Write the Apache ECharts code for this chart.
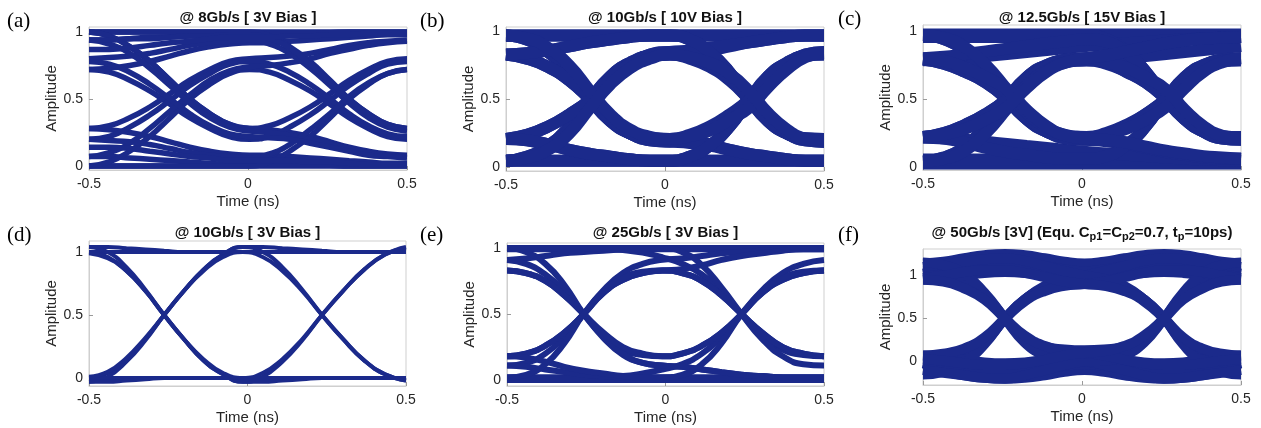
<!DOCTYPE html>
<html>
<head>
    <meta charset="utf-8">
    <title>Eye diagrams</title>
    <script src="https://cdn.jsdelivr.net/npm/echarts@6/dist/echarts.min.js"></script>
    <style>html, body { margin: 0; padding: 0; background: #fff; }</style>
</head>
<body>
<div id="main" style="width: 1261px;height:428px;"></div>
<script type="text/javascript">
    // sample times (ns) of every trace, one list per panel
    var timeA = [-0.5, -0.436, -0.372, -0.309, -0.245, -0.183, -0.12, -0.058, 0.005, 0.068, 0.131, 0.195, 0.258, 0.318, 0.379, 0.439, 0.5];
    var timeB = [-0.5, -0.434, -0.368, -0.301, -0.235, -0.172, -0.11, -0.047, 0.015, 0.078, 0.14, 0.203, 0.265, 0.324, 0.383, 0.441, 0.5];
    var timeC = [-0.5, -0.434, -0.368, -0.302, -0.236, -0.174, -0.111, -0.049, 0.014, 0.076, 0.139, 0.201, 0.264, 0.323, 0.382, 0.441, 0.5];
    var timeD = [-0.5, -0.441, -0.382, -0.322, -0.263, -0.201, -0.139, -0.077, -0.015, 0.048, 0.11, 0.173, 0.235, 0.301, 0.368, 0.434, 0.5];
    var timeE = [-0.5, -0.44, -0.379, -0.319, -0.258, -0.196, -0.134, -0.072, -0.01, 0.052, 0.115, 0.177, 0.24, 0.305, 0.37, 0.435, 0.5];
    var timeF = [-0.5, -0.436, -0.371, -0.307, -0.242, -0.18, -0.117, -0.055, 0.008, 0.07, 0.133, 0.195, 0.258, 0.318, 0.379, 0.439, 0.5];

    // amplitude of each trace at those times
    var eyeA = [
        [1, 1, 1, 1, 1, 1, 1, 1, 1, 1, 1, 1, 1, 1, 1, 1, 1],
        [0.72, 0.73, 0.75, 0.78, 0.82, 0.86, 0.89, 0.91, 0.92, 0.92, 0.93, 0.94, 0.95, 0.96, 0.97, 0.98, 0.98],
        [0.94, 0.94, 0.95, 0.96, 0.965, 0.97, 0.98, 0.99, 0.99, 0.99, 0.99, 0.99, 0.995, 1, 1, 1, 1],
        [1, 1, 1, 1, 1, 1, 1, 1, 1, 0.97, 0.89, 0.78, 0.64, 0.5, 0.39, 0.31, 0.28],
        [1, 0.97, 0.89, 0.78, 0.64, 0.5, 0.39, 0.31, 0.28, 0.3, 0.36, 0.44, 0.54, 0.64, 0.72, 0.78, 0.8],
        [1, 0.97, 0.89, 0.78, 0.64, 0.5, 0.39, 0.31, 0.28, 0.27, 0.25, 0.22, 0.18, 0.14, 0.11, 0.09, 0.08],
        [0.72, 0.7, 0.64, 0.56, 0.46, 0.36, 0.28, 0.22, 0.2, 0.22, 0.29, 0.38, 0.49, 0.6, 0.69, 0.76, 0.78],
        [0.8, 0.81, 0.82, 0.84, 0.87, 0.9, 0.92, 0.93, 0.94, 0.91, 0.84, 0.73, 0.6, 0.47, 0.36, 0.29, 0.26],
        [0, 0, 0, 0, 0, 0, 0, 0, 0, 0, 0, 0, 0, 0, 0, 0, 0],
        [0.28, 0.27, 0.25, 0.22, 0.18, 0.14, 0.11, 0.09, 0.08, 0.08, 0.07, 0.06, 0.05, 0.04, 0.03, 0.02, 0.02],
        [0.07, 0.07, 0.06, 0.05, 0.04, 0.03, 0.02, 0.01, 0.01, 0.01, 0.01, 0.01, 0.005, 0, 0, 0, 0],
        [0, 0, 0, 0, 0, 0, 0, 0, 0, 0.03, 0.11, 0.22, 0.36, 0.5, 0.61, 0.69, 0.72],
        [0, 0.03, 0.11, 0.22, 0.36, 0.5, 0.61, 0.69, 0.72, 0.7, 0.64, 0.56, 0.46, 0.36, 0.28, 0.22, 0.2],
        [0.28, 0.3, 0.36, 0.44, 0.54, 0.64, 0.72, 0.78, 0.8, 0.81, 0.82, 0.84, 0.87, 0.9, 0.92, 0.93, 0.94],
        [0.2, 0.22, 0.29, 0.38, 0.49, 0.6, 0.69, 0.76, 0.78, 0.76, 0.7, 0.61, 0.5, 0.39, 0.3, 0.24, 0.22],
        [0.07, 0.1, 0.17, 0.28, 0.41, 0.53, 0.64, 0.71, 0.74, 0.75, 0.77, 0.8, 0.84, 0.87, 0.9, 0.92, 0.93],
        [0.94, 0.91, 0.84, 0.73, 0.6, 0.47, 0.36, 0.29, 0.26, 0.25, 0.23, 0.2, 0.17, 0.13, 0.1, 0.08, 0.07],
        [0.2, 0.19, 0.18, 0.16, 0.13, 0.1, 0.08, 0.07, 0.06, 0.09, 0.16, 0.27, 0.39, 0.52, 0.62, 0.69, 0.72],
        [0.78, 0.76, 0.7, 0.61, 0.5, 0.39, 0.3, 0.24, 0.22, 0.21, 0.2, 0.17, 0.14, 0.11, 0.08, 0.07, 0.06],
        [0.94, 0.94, 0.95, 0.95, 0.96, 0.97, 0.97, 0.98, 0.98, 0.95, 0.88, 0.76, 0.63, 0.5, 0.39, 0.31, 0.28],
        [0.87, 0.87, 0.88, 0.9, 0.92, 0.93, 0.95, 0.96, 0.96, 0.96, 0.97, 0.97, 0.98, 0.98, 0.99, 0.99, 0.99],
        [0.14, 0.14, 0.13, 0.11, 0.09, 0.07, 0.06, 0.04, 0.04, 0.04, 0.04, 0.03, 0.03, 0.02, 0.01, 0.01, 0.01]
    ];
    var eyeB = [
        [0.97, 0.97, 0.97, 0.97, 0.97, 0.97, 0.97, 0.97, 0.97, 0.97, 0.97, 0.97, 0.97, 0.97, 0.97, 0.97, 0.97],
        [0.83, 0.84, 0.86, 0.89, 0.92, 0.94, 0.96, 0.97, 0.97, 0.97, 0.97, 0.97, 0.97, 0.97, 0.97, 0.97, 0.97],
        [0.97, 0.97, 0.97, 0.97, 0.97, 0.97, 0.97, 0.97, 0.97, 0.94, 0.85, 0.7, 0.5, 0.34, 0.25, 0.215, 0.21],
        [0.97, 0.94, 0.85, 0.7, 0.5, 0.34, 0.25, 0.215, 0.21, 0.24, 0.3, 0.39, 0.5, 0.65, 0.76, 0.83, 0.85],
        [0.97, 0.94, 0.85, 0.7, 0.5, 0.34, 0.25, 0.215, 0.21, 0.2, 0.17, 0.13, 0.1, 0.08, 0.06, 0.05, 0.05],
        [0.05, 0.08, 0.16, 0.3, 0.5, 0.67, 0.77, 0.82, 0.83, 0.8, 0.74, 0.64, 0.5, 0.35, 0.25, 0.2, 0.19],
        [0.05, 0.08, 0.16, 0.3, 0.5, 0.67, 0.77, 0.82, 0.83, 0.84, 0.86, 0.89, 0.92, 0.94, 0.96, 0.97, 0.97],
        [0.05, 0.05, 0.05, 0.05, 0.05, 0.05, 0.05, 0.05, 0.05, 0.08, 0.16, 0.3, 0.5, 0.67, 0.77, 0.82, 0.83],
        [0.05, 0.05, 0.05, 0.05, 0.05, 0.05, 0.05, 0.05, 0.05, 0.05, 0.05, 0.05, 0.05, 0.05, 0.05, 0.05, 0.05],
        [0.21, 0.2, 0.17, 0.13, 0.1, 0.08, 0.06, 0.05, 0.05, 0.05, 0.05, 0.05, 0.05, 0.05, 0.05, 0.05, 0.05],
        [0.83, 0.8, 0.74, 0.64, 0.5, 0.35, 0.25, 0.2, 0.19, 0.22, 0.28, 0.38, 0.5, 0.65, 0.76, 0.83, 0.85],
        [0.21, 0.24, 0.3, 0.39, 0.5, 0.65, 0.76, 0.83, 0.85, 0.82, 0.76, 0.65, 0.5, 0.35, 0.25, 0.2, 0.19],
        [0.83, 0.8, 0.74, 0.64, 0.5, 0.35, 0.25, 0.2, 0.19, 0.18, 0.16, 0.13, 0.1, 0.08, 0.06, 0.05, 0.05],
        [0.21, 0.24, 0.3, 0.39, 0.5, 0.65, 0.76, 0.83, 0.85, 0.86, 0.88, 0.9, 0.92, 0.94, 0.96, 0.97, 0.97],
        [0.83, 0.84, 0.86, 0.89, 0.92, 0.94, 0.96, 0.97, 0.97, 0.94, 0.85, 0.7, 0.5, 0.34, 0.25, 0.215, 0.21],
        [0.21, 0.2, 0.17, 0.13, 0.1, 0.08, 0.06, 0.05, 0.05, 0.08, 0.16, 0.3, 0.5, 0.67, 0.77, 0.82, 0.83],
        [0.97, 0.95, 0.88, 0.75, 0.56, 0.39, 0.28, 0.225, 0.21, 0.23, 0.27, 0.35, 0.44, 0.59, 0.72, 0.81, 0.84],
        [0.05, 0.07, 0.13, 0.25, 0.44, 0.61, 0.73, 0.8, 0.83, 0.81, 0.77, 0.69, 0.56, 0.4, 0.28, 0.21, 0.19]
    ];
    var eyeC = [
        [0.975, 0.975, 0.975, 0.975, 0.975, 0.975, 0.975, 0.975, 0.975, 0.975, 0.975, 0.975, 0.975, 0.975, 0.975, 0.975, 0.975],
        [0.955, 0.955, 0.955, 0.955, 0.955, 0.955, 0.955, 0.955, 0.955, 0.955, 0.955, 0.955, 0.955, 0.955, 0.955, 0.955, 0.955],
        [0.785, 0.79, 0.8, 0.815, 0.83, 0.845, 0.86, 0.875, 0.89, 0.9, 0.91, 0.92, 0.93, 0.94, 0.945, 0.95, 0.955],
        [0.97, 0.97, 0.97, 0.97, 0.97, 0.97, 0.97, 0.97, 0.97, 0.94, 0.85, 0.7, 0.5, 0.35, 0.26, 0.225, 0.22],
        [0.97, 0.94, 0.85, 0.7, 0.5, 0.35, 0.26, 0.225, 0.22, 0.25, 0.31, 0.39, 0.5, 0.64, 0.74, 0.79, 0.8],
        [0.97, 0.94, 0.85, 0.7, 0.5, 0.35, 0.26, 0.225, 0.22, 0.21, 0.18, 0.14, 0.11, 0.09, 0.07, 0.06, 0.06],
        [0.04, 0.07, 0.15, 0.3, 0.5, 0.66, 0.75, 0.78, 0.785, 0.76, 0.7, 0.62, 0.5, 0.36, 0.26, 0.21, 0.2],
        [0.04, 0.07, 0.15, 0.3, 0.5, 0.66, 0.75, 0.78, 0.785, 0.79, 0.8, 0.815, 0.83, 0.845, 0.86, 0.875, 0.89],
        [0.04, 0.04, 0.04, 0.04, 0.04, 0.04, 0.04, 0.04, 0.04, 0.07, 0.15, 0.3, 0.5, 0.66, 0.75, 0.78, 0.785],
        [0.025, 0.025, 0.025, 0.025, 0.025, 0.025, 0.025, 0.025, 0.025, 0.025, 0.025, 0.025, 0.025, 0.025, 0.025, 0.025, 0.025],
        [0.055, 0.055, 0.055, 0.055, 0.055, 0.055, 0.055, 0.055, 0.055, 0.055, 0.055, 0.055, 0.055, 0.055, 0.055, 0.055, 0.055],
        [0.215, 0.21, 0.2, 0.185, 0.17, 0.155, 0.14, 0.125, 0.11, 0.1, 0.09, 0.08, 0.07, 0.06, 0.055, 0.05, 0.045],
        [0.79, 0.76, 0.7, 0.62, 0.5, 0.36, 0.26, 0.21, 0.2, 0.23, 0.3, 0.39, 0.5, 0.64, 0.74, 0.79, 0.8],
        [0.22, 0.25, 0.31, 0.39, 0.5, 0.64, 0.74, 0.79, 0.8, 0.77, 0.7, 0.62, 0.5, 0.36, 0.26, 0.21, 0.2],
        [0.79, 0.76, 0.7, 0.62, 0.5, 0.36, 0.26, 0.21, 0.2, 0.19, 0.17, 0.14, 0.11, 0.09, 0.07, 0.06, 0.06],
        [0.22, 0.25, 0.31, 0.39, 0.5, 0.64, 0.74, 0.79, 0.8, 0.82, 0.85, 0.88, 0.91, 0.93, 0.945, 0.95, 0.955],
        [0.8, 0.81, 0.83, 0.85, 0.87, 0.89, 0.91, 0.925, 0.94, 0.92, 0.84, 0.7, 0.5, 0.35, 0.26, 0.225, 0.22],
        [0.22, 0.21, 0.18, 0.14, 0.11, 0.09, 0.07, 0.06, 0.06, 0.08, 0.16, 0.3, 0.5, 0.66, 0.75, 0.78, 0.785],
        [0.97, 0.95, 0.88, 0.75, 0.57, 0.4, 0.29, 0.235, 0.22, 0.24, 0.28, 0.35, 0.44, 0.58, 0.7, 0.77, 0.8],
        [0.04, 0.06, 0.12, 0.25, 0.43, 0.6, 0.71, 0.77, 0.785, 0.77, 0.73, 0.66, 0.57, 0.42, 0.3, 0.23, 0.21],
        [0.8, 0.78, 0.73, 0.66, 0.57, 0.42, 0.3, 0.23, 0.21, 0.2, 0.18, 0.15, 0.12, 0.1, 0.08, 0.07, 0.06],
        [0.22, 0.24, 0.28, 0.35, 0.44, 0.58, 0.7, 0.77, 0.8, 0.82, 0.85, 0.88, 0.91, 0.93, 0.945, 0.95, 0.955]
    ];
    var eyeD = [
        [1, 1, 1, 1, 1, 1, 1, 1, 1, 1, 1, 1, 1, 1, 1, 1, 1],
        [1.04, 1.04, 1.03, 1.02, 1.01, 1, 1, 1, 1, 1, 1, 1, 1, 1, 1, 1, 1],
        [1, 1, 1, 1, 1, 1, 1, 1, 1, 0.96, 0.85, 0.69, 0.5, 0.31, 0.14, 0.03, -0.02],
        [1, 0.96, 0.85, 0.69, 0.5, 0.31, 0.14, 0.03, -0.03, 0.01, 0.13, 0.3, 0.5, 0.69, 0.86, 0.98, 1.04],
        [1.04, 1, 0.88, 0.7, 0.5, 0.31, 0.14, 0.03, -0.03, -0.03, -0.02, -0.01, 0, 0, 0, 0, 0],
        [0, 0.04, 0.15, 0.31, 0.5, 0.69, 0.86, 0.98, 1.04, 1.04, 1.03, 1.02, 1.01, 1, 1, 1, 1],
        [-0.03, 0.01, 0.13, 0.3, 0.5, 0.69, 0.86, 0.98, 1.04, 1, 0.88, 0.7, 0.5, 0.31, 0.14, 0.03, -0.02],
        [0, 0, 0, 0, 0, 0, 0, 0, 0, 0.04, 0.15, 0.31, 0.5, 0.69, 0.86, 0.98, 1.03],
        [0, 0, 0, 0, 0, 0, 0, 0, 0, 0, 0, 0, 0, 0, 0, 0, 0],
        [-0.03, -0.03, -0.02, -0.01, 0, 0, 0, 0, 0, 0, 0, 0, 0, 0, 0, 0, 0],
        [0.01, 0.05, 0.16, 0.32, 0.5, 0.69, 0.85, 0.96, 1, 1, 1, 1, 1, 1, 1, 1, 1],
        [0.99, 0.95, 0.85, 0.69, 0.5, 0.31, 0.15, 0.04, 0, 0, 0, 0, 0, 0, 0, 0, 0]
    ];
    var eyeE = [
        [1, 1, 1, 1, 1, 1, 1, 1, 1, 1, 1, 1, 1, 1, 1, 1, 1],
        [0.99, 0.99, 0.99, 0.99, 0.99, 0.99, 0.99, 0.99, 0.99, 0.99, 0.99, 0.99, 0.99, 0.99, 0.99, 0.99, 0.99],
        [0.91, 0.92, 0.94, 0.96, 0.97, 0.98, 0.99, 1, 1, 1, 1, 1, 1, 1, 1, 1, 1],
        [1, 1, 1, 1, 1, 0.995, 0.985, 0.965, 0.93, 0.88, 0.8, 0.67, 0.5, 0.33, 0.23, 0.19, 0.18],
        [1, 0.97, 0.88, 0.72, 0.5, 0.33, 0.23, 0.19, 0.18, 0.2, 0.26, 0.36, 0.5, 0.66, 0.76, 0.81, 0.83],
        [0.91, 0.88, 0.8, 0.67, 0.5, 0.32, 0.19, 0.13, 0.11, 0.1, 0.08, 0.06, 0.04, 0.03, 0.02, 0.02, 0.02],
        [0.18, 0.2, 0.26, 0.36, 0.5, 0.66, 0.76, 0.81, 0.83, 0.81, 0.75, 0.64, 0.5, 0.36, 0.25, 0.2, 0.18],
        [0.11, 0.13, 0.2, 0.33, 0.5, 0.68, 0.81, 0.88, 0.91, 0.92, 0.94, 0.96, 0.97, 0.98, 0.99, 1, 1],
        [0.02, 0.02, 0.02, 0.02, 0.02, 0.025, 0.03, 0.05, 0.08, 0.12, 0.2, 0.33, 0.5, 0.68, 0.81, 0.88, 0.91],
        [0.02, 0.02, 0.02, 0.02, 0.02, 0.02, 0.02, 0.02, 0.02, 0.02, 0.02, 0.02, 0.02, 0.02, 0.02, 0.02, 0.02],
        [0, 0, 0, 0, 0, 0, 0, 0, 0, 0, 0, 0, 0, 0, 0, 0, 0],
        [0.11, 0.1, 0.08, 0.06, 0.04, 0.03, 0.02, 0.02, 0.02, 0.02, 0.02, 0.02, 0.02, 0.02, 0.02, 0.02, 0.02],
        [0.83, 0.81, 0.75, 0.64, 0.5, 0.33, 0.2, 0.13, 0.11, 0.1, 0.08, 0.06, 0.04, 0.03, 0.02, 0.02, 0.02],
        [0.18, 0.2, 0.26, 0.36, 0.5, 0.66, 0.76, 0.81, 0.83, 0.84, 0.87, 0.91, 0.94, 0.96, 0.98, 0.99, 0.99],
        [1, 1, 1, 1, 1, 1, 1, 1, 1, 0.97, 0.87, 0.7, 0.5, 0.31, 0.18, 0.12, 0.11],
        [0.83, 0.81, 0.75, 0.64, 0.5, 0.36, 0.25, 0.2, 0.18, 0.2, 0.26, 0.36, 0.5, 0.66, 0.76, 0.81, 0.83],
        [0.02, 0.04, 0.12, 0.28, 0.5, 0.67, 0.77, 0.82, 0.83, 0.81, 0.75, 0.64, 0.5, 0.36, 0.25, 0.2, 0.18],
        [0.18, 0.17, 0.14, 0.1, 0.07, 0.05, 0.03, 0.02, 0.02, 0.04, 0.12, 0.28, 0.5, 0.67, 0.77, 0.82, 0.83]
    ];
    var eyeF = [
        [1.14, 1.16, 1.2, 1.235, 1.25, 1.235, 1.2, 1.16, 1.14, 1.16, 1.2, 1.235, 1.25, 1.235, 1.2, 1.16, 1.14],
        [1.05, 1.07, 1.11, 1.14, 1.15, 1.14, 1.11, 1.07, 1.05, 1.07, 1.11, 1.14, 1.15, 1.14, 1.11, 1.07, 1.05],
        [0.95, 0.97, 1, 1.03, 1.04, 1.03, 1, 0.97, 0.95, 0.97, 1, 1.03, 1.04, 1.03, 1, 0.97, 0.95],
        [-0.05, -0.03, 0.05, 0.22, 0.5, 0.72, 0.85, 0.91, 0.93, 0.98, 1.04, 1.09, 1.13, 1.13, 1.1, 1.06, 1.02],
        [1.02, 1.06, 1.1, 1.13, 1.13, 1.09, 1.04, 0.98, 0.93, 0.91, 0.85, 0.72, 0.5, 0.22, 0.05, -0.03, -0.05],
        [-0.05, -0.03, 0.05, 0.22, 0.5, 0.72, 0.85, 0.9, 0.91, 0.9, 0.85, 0.72, 0.5, 0.25, 0.07, -0.01, -0.02],
        [1.05, 1.03, 0.95, 0.78, 0.5, 0.28, 0.17, 0.14, 0.13, 0.14, 0.17, 0.28, 0.5, 0.78, 0.95, 1.03, 1.05],
        [1.02, 1, 0.93, 0.77, 0.5, 0.25, 0.13, 0.1, 0.09, 0.05, -0.02, -0.08, -0.11, -0.12, -0.11, -0.07, -0.02],
        [-0.02, -0.07, -0.11, -0.12, -0.11, -0.08, -0.02, 0.05, 0.09, 0.1, 0.13, 0.25, 0.5, 0.77, 0.93, 1, 1.02],
        [-0.1, -0.12, -0.16, -0.19, -0.2, -0.19, -0.16, -0.12, -0.1, -0.12, -0.16, -0.19, -0.2, -0.19, -0.16, -0.12, -0.1],
        [-0.03, -0.05, -0.08, -0.11, -0.12, -0.11, -0.08, -0.05, -0.03, -0.05, -0.08, -0.11, -0.12, -0.11, -0.08, -0.05, -0.03],
        [0.07, 0.05, 0.02, -0.01, -0.02, -0.01, 0.02, 0.05, 0.07, 0.05, 0.02, -0.01, -0.02, -0.01, 0.02, 0.05, 0.07],
        [-0.15, -0.12, -0.02, 0.2, 0.5, 0.72, 0.88, 0.96, 1, 1.05, 1.11, 1.17, 1.2, 1.19, 1.16, 1.13, 1.1],
        [1.1, 1.13, 1.16, 1.19, 1.2, 1.17, 1.11, 1.05, 1, 0.96, 0.88, 0.72, 0.5, 0.2, -0.02, -0.12, -0.15],
        [1.15, 1.12, 1.02, 0.8, 0.5, 0.22, 0.07, 0.01, 0, -0.04, -0.1, -0.16, -0.2, -0.19, -0.16, -0.13, -0.1],
        [-0.1, -0.13, -0.16, -0.19, -0.2, -0.16, -0.1, -0.04, 0, 0.01, 0.07, 0.22, 0.5, 0.8, 1.02, 1.12, 1.15],
        [0.07, 0.09, 0.15, 0.28, 0.5, 0.7, 0.82, 0.88, 0.9, 0.93, 0.98, 1.03, 1.06, 1.06, 1.04, 1, 0.97],
        [0.97, 1, 1.04, 1.06, 1.06, 1.03, 0.98, 0.93, 0.9, 0.88, 0.82, 0.7, 0.5, 0.28, 0.15, 0.09, 0.07],
        [0.95, 0.93, 0.85, 0.72, 0.5, 0.3, 0.18, 0.12, 0.1, 0.07, 0.02, -0.02, -0.04, -0.04, -0.02, 0.01, 0.03],
        [0.03, 0.01, -0.02, -0.04, -0.04, -0.02, 0.02, 0.07, 0.1, 0.12, 0.18, 0.3, 0.5, 0.72, 0.85, 0.93, 0.95]
    ];

    var tickX = [-0.5, 0, 0.5];
    var tickY = [0, 0.5, 1];
    var titles = [
        '@ 8Gb/s [ 3V Bias ]',
        '@ 10Gb/s [ 10V Bias ]',
        '@ 12.5Gb/s [ 15V Bias ]',
        '@ 10Gb/s [ 3V Bias ]',
        '@ 25Gb/s [ 3V Bias ]',
        '@ 50Gb/s [3V] (Equ. C{s|p1}=C{s|p2}=0.7, t{s|p}=10ps)'
    ];
    var tags = ['(a)', '(b)', '(c)', '(d)', '(e)', '(f)'];

    var navy = '#1b2a8b';
    var font = 'Liberation Sans, Arial, sans-serif';

    // layout of every panel, in px
    var panels = [
        {time: timeA, eye: eyeA, left: 89, top: 27, width: 318, height: 143, ymin: -0.03, ymax: 1.037, lw: 5.5, tag: [7, 11]},
        {time: timeB, eye: eyeB, left: 506, top: 27, width: 318, height: 144, ymin: -0.026, ymax: 1.033, lw: 12, tag: [420, 11]},
        {time: timeC, eye: eyeC, left: 923, top: 25, width: 318, height: 145, ymin: -0.022, ymax: 1.044, lw: 12, tag: [838, 9]},
        {time: timeD, eye: eyeD, left: 89, top: 241, width: 317, height: 145, ymin: -0.063, ymax: 1.087, lw: 4, tag: [7, 225]},
        {time: timeE, eye: eyeE, left: 507, top: 243, width: 317, height: 143, ymin: -0.045, ymax: 1.038, lw: 6, tag: [420, 225]},
        {time: timeF, eye: eyeF, left: 923, top: 249, width: 318, height: 136, ymin: -0.273, ymax: 1.308, lw: 10, tag: [838, 225]}
    ];

    var myChart = echarts.init(document.getElementById('main'));
    var grid = [], xAxis = [], yAxis = [], series = [], title = [];

    panels.forEach(function (p, i) {
        grid.push({
            left: p.left, top: p.top, width: p.width, height: p.height,
            show: true, borderColor: '#cfcfcf', borderWidth: 1
        });
        xAxis.push({
            gridIndex: i, type: 'value', min: tickX[0], max: tickX[2], interval: 0.5,
            axisLine: {show: true, onZero: false, lineStyle: {color: '#cfcfcf'}},
            axisTick: {inside: true, length: 4, lineStyle: {color: '#9a9a9a'}},
            axisLabel: {color: '#262626', fontSize: 14, fontFamily: font, margin: 7},
            splitLine: {show: false},
            name: 'Time (ns)', nameLocation: 'middle', nameGap: 24,
            nameTextStyle: {color: '#262626', fontSize: 15, fontFamily: font}
        });
        yAxis.push({
            gridIndex: i, type: 'value', min: p.ymin, max: p.ymax,
            axisLine: {show: true, onZero: false, lineStyle: {color: '#cfcfcf'}},
            axisTick: {inside: true, length: 4, customValues: tickY, lineStyle: {color: '#9a9a9a'}},
            axisLabel: {color: '#262626', fontSize: 14, fontFamily: font, margin: 6, customValues: tickY},
            splitLine: {show: false},
            name: 'Amplitude', nameLocation: 'middle', nameGap: 29,
            nameTextStyle: {color: '#262626', fontSize: 15, fontFamily: font}
        });
        p.eye.forEach(function (trace) {
            series.push({
                type: 'line', xAxisIndex: i, yAxisIndex: i,
                smooth: true, symbol: 'none', silent: true,
                data: trace.map(function (v, k) { return [p.time[k], v]; }),
                lineStyle: {color: navy, width: p.lw}
            });
        });
        title.push({
            text: titles[i], left: p.left + p.width / 2, top: i < 3 ? 9 : 224, textAlign: 'center', padding: 0,
            textStyle: {
                fontSize: 15, fontWeight: 'bold', fontFamily: font, color: '#111', lineHeight: 18,
                rich: {s: {fontSize: 11, fontWeight: 'bold', fontFamily: font, color: '#111', lineHeight: 11, padding: [12, 0, 0, 0], verticalAlign: 'bottom'}}
            }
        });
        title.push({
            text: tags[i], left: p.tag[0], top: p.tag[1], padding: 0,
            textStyle: {fontSize: 21, fontWeight: 'normal', fontFamily: 'Liberation Serif, Times New Roman, serif', color: '#000'}
        });
    });

    var option = {
        animation: false,
        backgroundColor: '#fff',
        title: title,
        grid: grid,
        xAxis: xAxis,
        yAxis: yAxis,
        series: series
    };
    myChart.setOption(option);
</script>
</body>
</html>
